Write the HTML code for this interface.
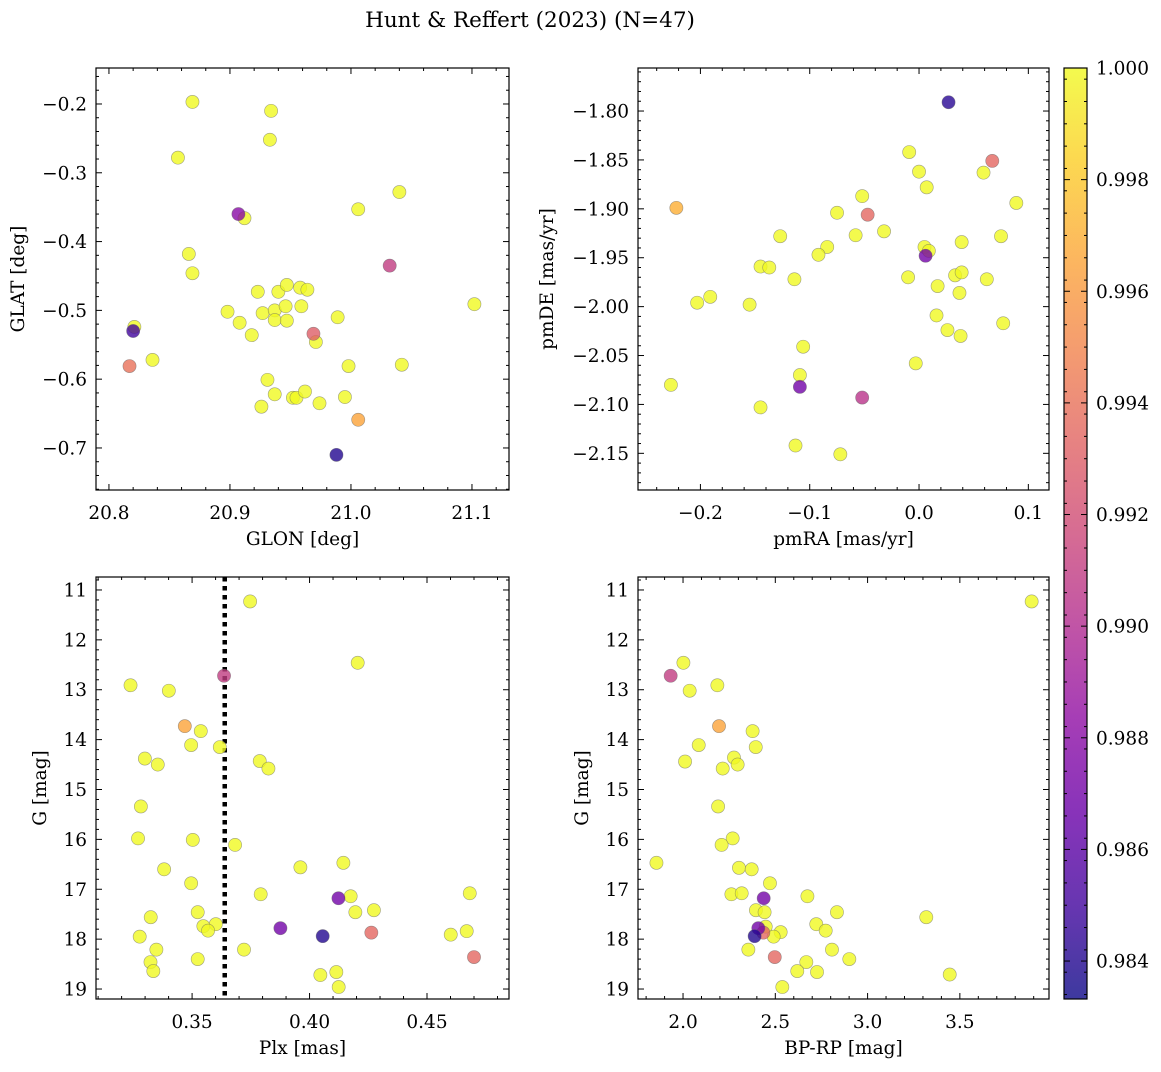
<!DOCTYPE html>
<html><head><meta charset="utf-8"><style>
body{margin:0;background:#fff;}
svg text{font-family:"DejaVu Serif","Liberation Serif",serif;fill:#000;}
</style></head><body>
<svg id="fig" width="1161" height="1067" xmlns="http://www.w3.org/2000/svg">
<defs>
<linearGradient id="plasma" x1="0" y1="1" x2="0" y2="0">
<stop offset="0" stop-color="#0d0887"/><stop offset="0.1" stop-color="#41049d"/><stop offset="0.2" stop-color="#6a00a8"/><stop offset="0.3" stop-color="#8f0da4"/><stop offset="0.4" stop-color="#b12a90"/><stop offset="0.5" stop-color="#cc4778"/><stop offset="0.6" stop-color="#e16462"/><stop offset="0.7" stop-color="#f2844b"/><stop offset="0.8" stop-color="#fca636"/><stop offset="0.9" stop-color="#fcce25"/><stop offset="1" stop-color="#f0f921"/>
</linearGradient>
</defs>
<text x="530" y="27" font-size="21.5" text-anchor="middle">Hunt &amp; Reffert (2023) (N=47)</text>
</svg>
<script>
// Panel 1: GLON / GLAT
const glon = [20.869,20.934,20.933,20.857,20.907,20.912,21.040,21.006,20.866,21.032,20.869,20.923,20.940,20.947,20.958,20.964,20.898,20.927,20.937,20.937,20.946,20.947,20.959,20.908,20.918,20.989,20.969,20.971,21.102,20.820,20.821,20.836,20.817,20.998,21.042,20.931,20.937,20.926,20.952,20.955,20.962,20.974,20.995,21.006,20.988];
const glat = [-0.197,-0.210,-0.252,-0.278,-0.360,-0.366,-0.328,-0.353,-0.418,-0.435,-0.446,-0.473,-0.473,-0.463,-0.467,-0.470,-0.502,-0.504,-0.500,-0.514,-0.494,-0.515,-0.494,-0.518,-0.536,-0.510,-0.534,-0.546,-0.491,-0.530,-0.524,-0.572,-0.581,-0.581,-0.579,-0.601,-0.622,-0.640,-0.627,-0.627,-0.618,-0.635,-0.626,-0.659,-0.710];
const prob1 = [1,1,1,1,0.988,1,1,1,1,0.991,1,1,1,1,1,1,1,1,1,1,1,1,1,1,1,1,0.993,1,1,0.985,1,1,0.994,1,1,1,1,1,1,1,1,1,1,0.9965,0.984];
// Panel 2: pmRA / pmDE
const pmra = [0.027,-0.009,0,0.007,0.067,0.059,0.089,-0.222,-0.052,-0.075,-0.047,-0.058,-0.032,-0.127,0.075,0.039,-0.084,-0.092,0.005,0.009,0.006,-0.145,-0.137,0.033,0.039,0.062,-0.010,-0.114,0.017,0.037,-0.191,-0.203,-0.155,0.016,0.077,0.026,0.038,-0.106,-0.003,-0.109,-0.227,-0.109,-0.052,-0.145,-0.113,-0.072];
const pmde = [-1.791,-1.842,-1.862,-1.878,-1.851,-1.863,-1.894,-1.899,-1.887,-1.904,-1.906,-1.927,-1.923,-1.928,-1.928,-1.934,-1.939,-1.947,-1.939,-1.943,-1.948,-1.959,-1.960,-1.968,-1.965,-1.972,-1.970,-1.972,-1.979,-1.986,-1.990,-1.996,-1.998,-2.009,-2.017,-2.024,-2.030,-2.041,-2.058,-2.070,-2.080,-2.082,-2.093,-2.103,-2.142,-2.151];
const prob2 = [0.9842,1,1,1,0.9935,1,1,0.997,1,1,0.9935,1,1,1,1,1,1,1,1,1,0.987,1,1,1,1,1,1,1,1,1,1,1,1,1,1,1,1,1,1,1,1,0.987,0.9905,1,1,1];
// Panel 3: Plx / G
const plx = [0.3747,0.4205,0.3636,0.3238,0.3401,0.3469,0.3537,0.3496,0.3618,0.3299,0.3354,0.3788,0.3825,0.3282,0.3270,0.3503,0.3683,0.3381,0.3961,0.4144,0.3496,0.3792,0.4682,0.4123,0.4175,0.4195,0.4274,0.3524,0.3324,0.3548,0.3601,0.3568,0.3876,0.4056,0.4263,0.4601,0.4669,0.3277,0.3348,0.3721,0.4700,0.3323,0.3335,0.3524,0.4046,0.4114,0.4124];
const gmag3 = [11.23,12.46,12.72,12.91,13.02,13.73,13.83,14.11,14.15,14.38,14.50,14.43,14.58,15.34,15.98,16.01,16.11,16.60,16.56,16.47,16.88,17.10,17.08,17.18,17.14,17.46,17.42,17.46,17.56,17.74,17.70,17.83,17.78,17.94,17.87,17.91,17.84,17.95,18.21,18.21,18.36,18.46,18.64,18.40,18.72,18.66,18.96];
const prob3 = [1,1,0.991,1,1,0.9965,1,1,1,1,1,1,1,1,1,1,1,1,1,1,1,1,1,0.987,1,1,1,1,1,1,1,1,0.987,0.984,0.9935,1,1,1,1,1,0.9935,1,1,1,1,1,1];
const plxRef = [0.3639];
// Panel 4: BP-RP / G
const bprp = [3.889,2.002,1.933,2.186,2.036,2.195,2.377,2.394,2.085,2.276,2.296,2.011,2.215,2.190,2.269,2.209,1.856,2.303,2.372,2.471,2.262,2.318,2.674,2.437,2.395,2.442,2.834,3.318,2.722,2.773,2.408,2.448,2.529,2.491,2.435,2.388,2.354,2.497,2.807,2.901,2.668,2.619,2.726,3.445,2.538];
const gmag4 = [11.23,12.46,12.72,12.91,13.02,13.73,13.83,14.15,14.11,14.36,14.50,14.44,14.58,15.34,15.98,16.11,16.47,16.57,16.60,16.88,17.10,17.08,17.14,17.18,17.42,17.46,17.46,17.56,17.70,17.83,17.78,17.75,17.86,17.95,17.87,17.94,18.21,18.36,18.21,18.40,18.46,18.64,18.66,18.71,18.96];
const prob4 = [1,1,0.991,1,1,0.9965,1,1,1,1,1,1,1,1,1,1,1,1,1,1,1,1,1,0.987,1,1,1,1,1,1,0.987,1,1,1,0.9935,0.984,1,0.9935,1,1,1,1,1,1,1];
const cbTicks = [0.984,0.986,0.988,0.990,0.992,0.994,0.996,0.998,1.000];
const VMIN = 0.98332, VMAX = 1.0;

const NS = 'http://www.w3.org/2000/svg';
const svg = document.getElementById('fig');
const stops = ['#0d0887','#41049d','#6a00a8','#8f0da4','#b12a90','#cc4778','#e16462','#f2844b','#fca636','#fcce25','#f0f921'];
const TF = 18.5, LF = 18.5;
function hex(h){return [parseInt(h.slice(1,3),16),parseInt(h.slice(3,5),16),parseInt(h.slice(5,7),16)];}
function plasma(v){
  let t=(v-VMIN)/(VMAX-VMIN); t=Math.max(0,Math.min(1,t));
  const f=t*10, i=Math.min(9,Math.floor(f)), r=f-i;
  const a=hex(stops[i]), b=hex(stops[i+1]);
  return 'rgb('+a.map((c,k)=>Math.round(c+(b[k]-c)*r)).join(',')+')';
}
function mk(tag, attrs, parent){
  const e=document.createElementNS(NS,tag);
  for(const k in attrs) e.setAttribute(k,attrs[k]);
  (parent||svg).appendChild(e); return e;
}
function panel(p){
  const g=mk('g',{});
  
  
  const sx=v=>p.x0+(v-p.xd[0])/(p.xd[1]-p.xd[0])*(p.x1-p.x0);
  const sy=v=>p.y0+(v-p.yd[0])/(p.yd[1]-p.yd[0])*(p.y1-p.y0);
  const eps=1e-9;
  const xlo=Math.min(p.xd[0],p.xd[1]), xhi=Math.max(p.xd[0],p.xd[1]);
  const ylo=Math.min(p.yd[0],p.yd[1]), yhi=Math.max(p.yd[0],p.yd[1]);
  for(let v=Math.ceil(xlo/p.xmin-eps)*p.xmin; v<=xhi+eps; v+=p.xmin){
    const X=sx(v); const major=Math.abs(v/p.xmaj-Math.round(v/p.xmaj))<1e-4; const L=major?6:3;
    mk('line',{x1:X,y1:p.y1,x2:X,y2:p.y1-L,stroke:'#000','stroke-width':1},g);
    mk('line',{x1:X,y1:p.y0,x2:X,y2:p.y0+L,stroke:'#000','stroke-width':1},g);
  }
  for(let v=Math.ceil(ylo/p.ymin-eps)*p.ymin; v<=yhi+eps; v+=p.ymin){
    const Y=sy(v); const major=Math.abs(v/p.ymaj-Math.round(v/p.ymaj))<1e-4; const L=major?6:3;
    mk('line',{x1:p.x0,y1:Y,x2:p.x0+L,y2:Y,stroke:'#000','stroke-width':1},g);
    mk('line',{x1:p.x1,y1:Y,x2:p.x1-L,y2:Y,stroke:'#000','stroke-width':1},g);
  }
  p.xt.forEach(v=>{const t=mk('text',{x:sx(v),y:p.y1+29,'font-size':TF,'text-anchor':'middle'},g);t.textContent=p.xf(v);
    
    });
  p.yt.forEach(v=>{const t=mk('text',{x:p.x0-9,y:sy(v)+6.5,'font-size':TF,'text-anchor':'end'},g);t.textContent=p.yf(v);
    
    });
  const xl=mk('text',{x:(p.x0+p.x1)/2,y:p.y1+55,'font-size':LF,'text-anchor':'middle'},g); xl.textContent=p.xlabel;
  
  
  const yl=mk('text',{x:0,y:0,'font-size':LF,'text-anchor':'middle',transform:'translate('+p.ylx+','+((p.y0+p.y1)/2)+') rotate(-90)'},g); yl.textContent=p.ylabel;
  
  
  if(p.vline){ p.vline.forEach(v=>{const l=mk('line',{x1:sx(v),y1:p.y0,x2:sx(v),y2:p.y1,stroke:'#000','stroke-width':4.5,'stroke-dasharray':'4.5,4.5'},g);
    
    }); }
  const order=p.c.map((c,i)=>i).sort((a,b)=>p.c[b]-p.c[a]);
  order.forEach(i=>{
    const c=mk('circle',{cx:sx(p.xs[i]),cy:sy(p.ys[i]),r:6.6,fill:plasma(p.c[i]),'fill-opacity':0.8,stroke:'#666','stroke-opacity':0.6,'stroke-width':0.6},g);
    
    
  });
  mk('rect',{x:p.x0,y:p.y0,width:p.x1-p.x0,height:p.y1-p.y0,fill:'none',stroke:'#000','stroke-width':1.2},g);
}
const f1=v=>v.toFixed(1), f2=v=>v.toFixed(2), m=v=>(v<0?'\u2212':'')+Math.abs(v);
panel({name:'glon-glat-panel',x0:96,x1:509,y0:68,y1:490,xd:[20.7893,21.1306],yd:[-0.1477,-0.7611],
  xmaj:0.1,xmin:0.02,ymaj:0.1,ymin:0.02,xt:[20.8,20.9,21.0,21.1],yt:[-0.2,-0.3,-0.4,-0.5,-0.6,-0.7],
  xf:f1,yf:v=>m(+v.toFixed(1)),xlabel:'GLON [deg]',ylabel:'GLAT [deg]',ylx:24,xs:glon,ys:glat,c:prob1});
panel({name:'proper-motion-panel',x0:638,x1:1049,y0:68,y1:490,xd:[-0.2571,0.1189],yd:[-1.756,-2.1875],
  xmaj:0.1,xmin:0.02,ymaj:0.05,ymin:0.01,xt:[-0.2,-0.1,0.0,0.1],yt:[-1.80,-1.85,-1.90,-1.95,-2.00,-2.05,-2.10,-2.15],
  xf:v=>m(+v.toFixed(1)).replace(/^0$/,'0.0'),yf:v=>(v<0?'\u2212':'')+Math.abs(v).toFixed(2),xlabel:'pmRA [mas/yr]',ylabel:'pmDE [mas/yr]',ylx:553,xs:pmra,ys:pmde,c:prob2});
panel({name:'parallax-magnitude-panel',x0:96,x1:509,y0:577,y1:999,xd:[0.3091,0.4849],yd:[10.74,19.2],
  xmaj:0.05,xmin:0.01,ymaj:1,ymin:0.2,xt:[0.35,0.40,0.45],yt:[11,12,13,14,15,16,17,18,19],
  xf:f2,yf:v=>String(v),xlabel:'Plx [mas]',ylabel:'G [mag]',ylx:46,xs:plx,ys:gmag3,c:prob3,vline:plxRef});
panel({name:'color-magnitude-panel',x0:638,x1:1049,y0:577,y1:999,xd:[1.756,3.983],yd:[10.74,19.2],
  xmaj:0.5,xmin:0.1,ymaj:1,ymin:0.2,xt:[2.0,2.5,3.0,3.5],yt:[11,12,13,14,15,16,17,18,19],
  xf:f1,yf:v=>String(v),xlabel:'BP-RP [mag]',ylabel:'G [mag]',ylx:588,xs:bprp,ys:gmag4,c:prob4});
// colorbar
const cb=mk('g',{});


const cx0=1064,cx1=1087,cy0=68,cy1=999;
mk('rect',{x:cx0,y:cy0,width:cx1-cx0,height:cy1-cy0,fill:'url(#plasma)','fill-opacity':0.8},cb);
const cy=v=>cy1-(v-VMIN)/(VMAX-VMIN)*(cy1-cy0);
for(let v=0.9834;v<=1.00001;v+=0.0004){const Y=cy(v);mk('line',{x1:cx1,y1:Y,x2:cx1-3,y2:Y,stroke:'#000','stroke-width':1},cb);mk('line',{x1:cx0,y1:Y,x2:cx0+3,y2:Y,stroke:'#000','stroke-width':1},cb);}
cbTicks.forEach(v=>{const Y=cy(v);
  mk('line',{x1:cx1,y1:Y,x2:cx1-6,y2:Y,stroke:'#000','stroke-width':1},cb);
  mk('line',{x1:cx0,y1:Y,x2:cx0+6,y2:Y,stroke:'#000','stroke-width':1},cb);
  const t=mk('text',{x:cx1+9,y:Y+6.5,'font-size':TF},cb);t.textContent=v.toFixed(3);
  
  });
mk('rect',{x:cx0,y:cy0,width:cx1-cx0,height:cy1-cy0,fill:'none',stroke:'#000','stroke-width':1.2},cb);
</script>
</body></html>
